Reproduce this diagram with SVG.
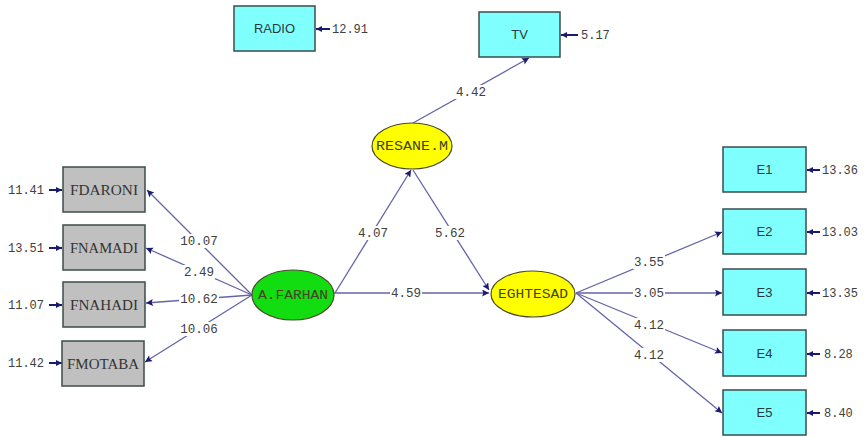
<svg xmlns="http://www.w3.org/2000/svg" width="866" height="437" viewBox="0 0 866 437">
<defs>
<style>
.bg{fill:#ffffff}
.box{stroke:#3c4c4c;stroke-width:1.5}
.cy{fill:#80ffff}
.gr{fill:#c0c0c0}
.ell{stroke:#4a4a2a;stroke-width:1.2}
.yl{fill:#ffff00}
.gn{fill:#11dd11}
.lbl{font-family:"Liberation Sans",Arial,sans-serif;font-size:13px;fill:#2a3a3a;text-anchor:middle}
.glbl{font-family:"Liberation Serif","Times New Roman",serif;font-size:14px;fill:#333333;text-anchor:middle}
.elbl{font-family:"Liberation Mono","Courier New",monospace;font-size:12.5px;fill:#444422;text-anchor:middle}
.num{font-family:"Liberation Mono","Courier New",monospace;font-size:12px;fill:#404040}
.pl{font-family:"Liberation Mono","Courier New",monospace;font-size:12.5px;fill:#404040;text-anchor:middle}
.mask{fill:#ffffff}
.ln{stroke:#6464a8;stroke-width:1.3;fill:none}
.err{stroke:#1a1a70;stroke-width:2;fill:none}
</style>
<marker id="ah" viewBox="0 0 10 10" refX="10" refY="5" markerWidth="10" markerHeight="7" markerUnits="userSpaceOnUse" orient="auto">
<path d="M0,0 L10,5 L0,10 L2,5 z" fill="#1a1a70"/>
</marker>
<marker id="eh" viewBox="0 0 10 10" refX="10" refY="5" markerWidth="7" markerHeight="6" markerUnits="userSpaceOnUse" orient="auto">
<path d="M0,0 L10,5 L0,10 z" fill="#1a1a70"/>
</marker>
</defs>
<rect class="bg" x="0" y="0" width="866" height="437"/>

<g id="connectors">
<line class="ln" x1="252" y1="295" x2="147" y2="190" marker-end="url(#ah)"/>
<line class="ln" x1="252" y1="295" x2="146" y2="248" marker-end="url(#ah)"/>
<line class="ln" x1="252" y1="295" x2="146" y2="303" marker-end="url(#ah)"/>
<line class="ln" x1="252" y1="295" x2="145" y2="362" marker-end="url(#ah)"/>
<line class="ln" x1="334" y1="293" x2="489" y2="293" marker-end="url(#ah)"/>
<line class="ln" x1="335" y1="293" x2="411" y2="170" marker-end="url(#ah)"/>
<line class="ln" x1="413" y1="170" x2="489" y2="290" marker-end="url(#ah)"/>
<line class="ln" x1="413" y1="123" x2="529" y2="58" marker-end="url(#ah)"/>
<line class="ln" x1="576" y1="293" x2="722" y2="232" marker-end="url(#ah)"/>
<line class="ln" x1="576" y1="293" x2="722" y2="293" marker-end="url(#ah)"/>
<line class="ln" x1="576" y1="293" x2="722" y2="353" marker-end="url(#ah)"/>
<line class="ln" x1="576" y1="293" x2="722" y2="413" marker-end="url(#ah)"/>
<rect class="mask" x="179" y="234" width="40" height="14"/>
<rect class="mask" x="183" y="265" width="32" height="14"/>
<rect class="mask" x="179" y="292" width="40" height="14"/>
<rect class="mask" x="179" y="322" width="40" height="14"/>
<rect class="mask" x="390" y="286" width="32" height="14"/>
<rect class="mask" x="357" y="226" width="32" height="14"/>
<rect class="mask" x="434" y="226" width="32" height="14"/>
<rect class="mask" x="455" y="85" width="32" height="14"/>
<rect class="mask" x="633" y="255" width="32" height="14"/>
<rect class="mask" x="633" y="286" width="32" height="14"/>
<rect class="mask" x="633" y="318" width="32" height="14"/>
<rect class="mask" x="633" y="348" width="32" height="14"/>
<text class="pl" x="199" y="245">10.07</text>
<text class="pl" x="199" y="276">2.49</text>
<text class="pl" x="199" y="303">10.62</text>
<text class="pl" x="199" y="333">10.06</text>
<text class="pl" x="406" y="297">4.59</text>
<text class="pl" x="373" y="237">4.07</text>
<text class="pl" x="450" y="237">5.62</text>
<text class="pl" x="471" y="96">4.42</text>
<text class="pl" x="649" y="266">3.55</text>
<text class="pl" x="649" y="297">3.05</text>
<text class="pl" x="649" y="329">4.12</text>
<text class="pl" x="649" y="359">4.12</text>
<!-- error arrows -->
<line class="err" x1="330" y1="29" x2="316" y2="29" marker-end="url(#eh)"/>
<line class="err" x1="578" y1="35" x2="561" y2="35" marker-end="url(#eh)"/>
<line class="err" x1="820" y1="170" x2="807" y2="170" marker-end="url(#eh)"/>
<line class="err" x1="820" y1="232" x2="807" y2="232" marker-end="url(#eh)"/>
<line class="err" x1="820" y1="293" x2="807" y2="293" marker-end="url(#eh)"/>
<line class="err" x1="820" y1="354" x2="807" y2="354" marker-end="url(#eh)"/>
<line class="err" x1="820" y1="413" x2="807" y2="413" marker-end="url(#eh)"/>
<line class="err" x1="49" y1="190" x2="62" y2="190" marker-end="url(#eh)"/>
<line class="err" x1="49" y1="248" x2="62" y2="248" marker-end="url(#eh)"/>
<line class="err" x1="49" y1="305" x2="62" y2="305" marker-end="url(#eh)"/>
<line class="err" x1="49" y1="363" x2="62" y2="363" marker-end="url(#eh)"/>
<text class="num" x="332" y="33">12.91</text>
<text class="num" x="581" y="39">5.17</text>
<text class="num" x="822" y="174">13.36</text>
<text class="num" x="822" y="236">13.03</text>
<text class="num" x="822" y="297">13.35</text>
<text class="num" x="824" y="358">8.28</text>
<text class="num" x="824" y="417">8.40</text>
<text class="num" x="8" y="194">11.41</text>
<text class="num" x="8" y="252">13.51</text>
<text class="num" x="8" y="309">11.07</text>
<text class="num" x="8" y="367">11.42</text>
</g>

<g id="RADIO"><rect class="box cy" x="234" y="6" width="81" height="45"/><text class="lbl" x="274.5" y="33">RADIO</text></g>
<g id="TV"><rect class="box cy" x="479" y="12" width="81" height="45"/><text class="lbl" x="519.5" y="39">TV</text></g>
<g id="E1"><rect class="box cy" x="723" y="147" width="83" height="45"/><text class="lbl" x="764.5" y="174">E1</text></g>
<g id="E2"><rect class="box cy" x="723" y="209" width="83" height="45"/><text class="lbl" x="764.5" y="236">E2</text></g>
<g id="E3"><rect class="box cy" x="723" y="269" width="83" height="46"/><text class="lbl" x="764.5" y="297">E3</text></g>
<g id="E4"><rect class="box cy" x="723" y="330" width="83" height="46"/><text class="lbl" x="764.5" y="358">E4</text></g>
<g id="E5"><rect class="box cy" x="723" y="390" width="83" height="45"/><text class="lbl" x="764.5" y="417">E5</text></g>

<g id="FDARONI"><rect class="box gr" x="63" y="167" width="82" height="45"/><text class="glbl" x="104" y="195" textLength="68" lengthAdjust="spacingAndGlyphs">FDARONI</text></g>
<g id="FNAMADI"><rect class="box gr" x="63" y="225" width="82" height="45"/><text class="glbl" x="104" y="253" textLength="68" lengthAdjust="spacingAndGlyphs">FNAMADI</text></g>
<g id="FNAHADI"><rect class="box gr" x="63" y="282" width="82" height="45"/><text class="glbl" x="104" y="310" textLength="68" lengthAdjust="spacingAndGlyphs">FNAHADI</text></g>
<g id="FMOTABA"><rect class="box gr" x="62" y="341" width="82" height="45"/><text class="glbl" x="103" y="369" textLength="72" lengthAdjust="spacingAndGlyphs">FMOTABA</text></g>

<g id="RESANE.M"><ellipse class="ell yl" cx="412" cy="146" rx="40" ry="23"/><text class="elbl" x="412" y="150" textLength="72" lengthAdjust="spacingAndGlyphs">RESANE.M</text></g>
<g id="A.FARHAN"><ellipse class="ell gn" cx="293" cy="295" rx="41" ry="25"/><text class="elbl" x="293" y="299" textLength="70" lengthAdjust="spacingAndGlyphs">A.FARHAN</text></g>
<g id="EGHTESAD"><ellipse class="ell yl" cx="533" cy="294" rx="42" ry="23"/><text class="elbl" x="533" y="298" textLength="70" lengthAdjust="spacingAndGlyphs">EGHTESAD</text></g>
</svg>
